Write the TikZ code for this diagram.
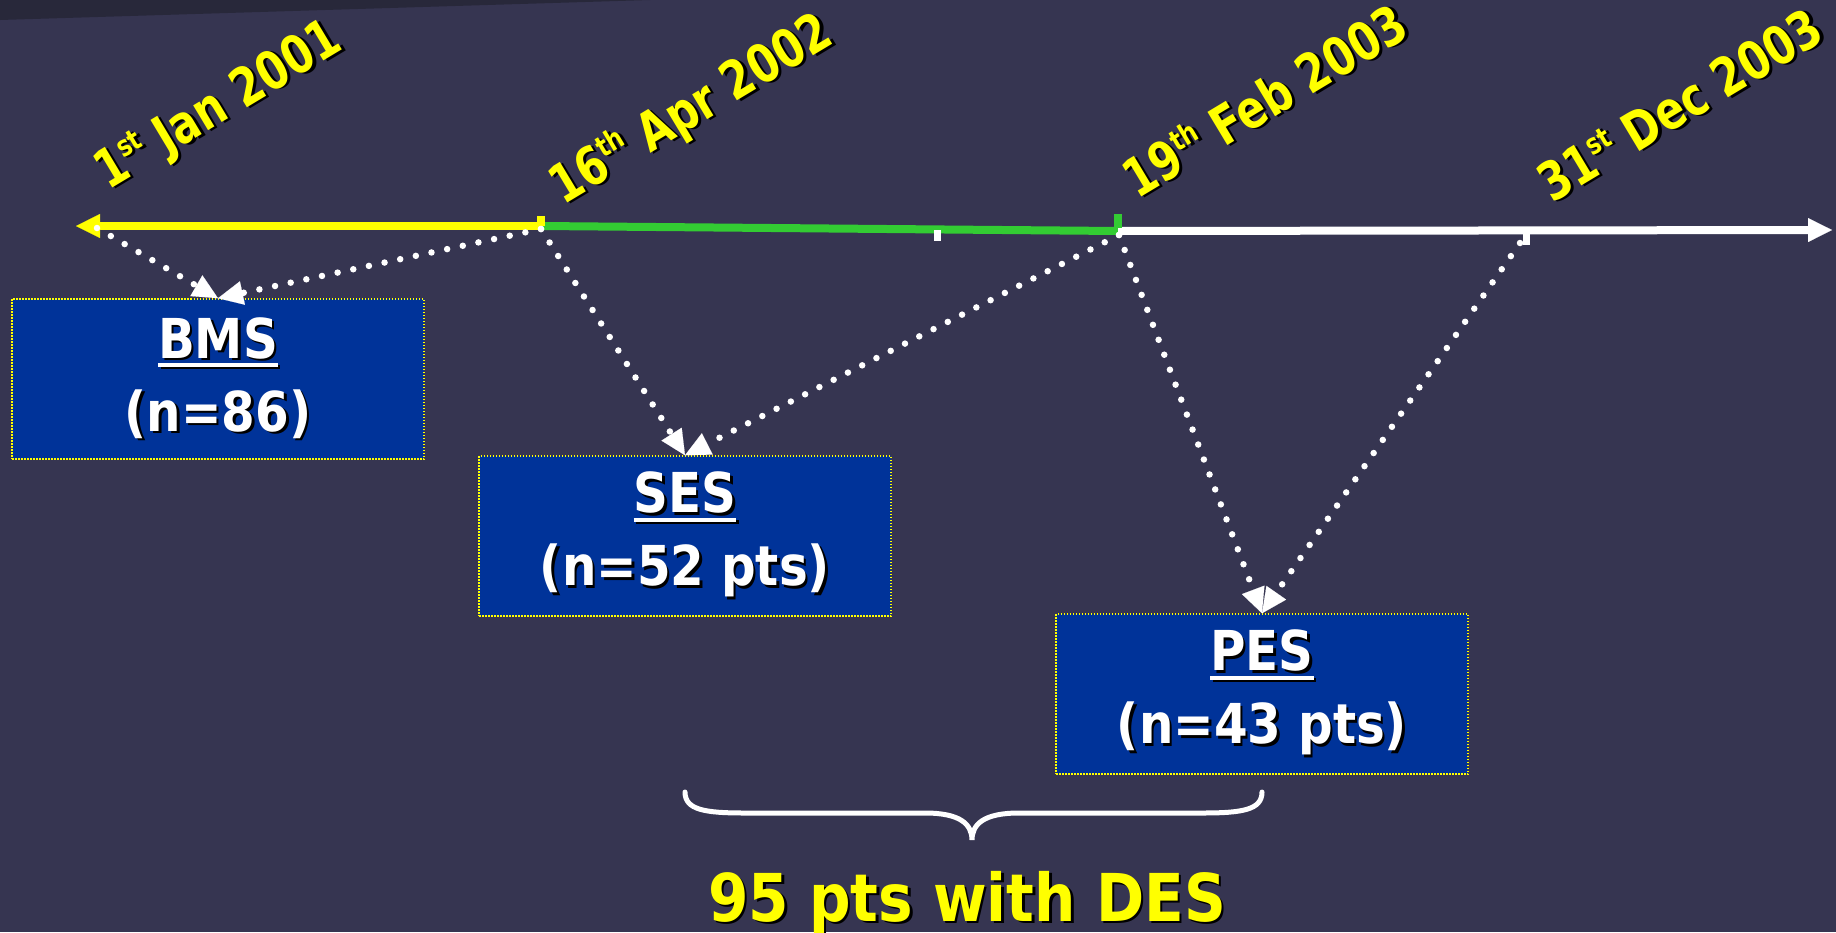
\documentclass[tikz,border=0pt]{standalone}
\usepackage{fontspec}
\setmainfont{DejaVu Sans}[FakeStretch=0.88]
\newfontfamily\datefam{DejaVu Sans}[FakeStretch=0.8]
\usetikzlibrary{arrows.meta}
\definecolor{bg}{RGB}{54,53,81}
\definecolor{bgdark}{RGB}{40,40,58}
\definecolor{boxblue}{RGB}{0,51,153}
\definecolor{tlgreen}{RGB}{51,204,51}
\definecolor{tlyellow}{RGB}{255,255,0}
\newcommand\shd[1]{\leavevmode\rlap{\kern2.5pt\raisebox{-2.5pt}{\color{black}#1}}#1}
\newcommand\myul[1]{\setbox0\hbox{#1}\vtop{\copy0\kern4pt\hrule height 4pt\relax}}
\newcommand\sups[1]{\raisebox{0.38em}{\fontsize{29}{29}\selectfont #1}}
\newcommand\boxfont{\bfseries\fontsize{55}{73}\selectfont}
\newcommand\datefont{\datefam\bfseries\fontsize{53}{60}\selectfont}
\tikzset{
  box/.style={draw=tlyellow, line width=1.5pt, dash pattern=on 1.5pt off 1.5pt,
    fill=boxblue, minimum width=412pt, minimum height=160pt, inner sep=0pt,
    align=center, text=white, font=\boxfont},
  dots/.style={draw=white, line width=6.5pt, line cap=round,
    dash pattern=on 0pt off 16pt,
    -{Triangle[length=25pt,width=24pt,line width=0.1pt]}},
  datelab/.style={rotate=31, anchor=base west, text=tlyellow, font=\datefont, inner sep=0pt},
  dateshadow/.style={datelab, text=black, xshift=2.5pt, yshift=-2.5pt},
  tl/.style={line width=8pt},
}
\begin{document}
\begin{tikzpicture}[x=1pt,y=-1pt]
\useasboundingbox (0,0) rectangle (1836,932);
\fill[bg] (0,0) rectangle (1836,932);
\fill[bgdark] (0,0) -- (650,0) -- (0,20) -- cycle;

% timeline
\coordinate (t0) at (76,226);
\coordinate (t1) at (541,226);
\coordinate (t2) at (1118,231);
\coordinate (t3) at (1832,230);
\draw[tl, tlyellow, {Triangle[length=24pt,width=24pt,line width=0.1pt]}-] (t0) -- (t1);
\draw[tl, tlgreen] (t1) -- (t2);
\draw[tl, white, -{Triangle[length=24pt,width=24pt,line width=0.1pt]}] (t2) -- (t3);
\fill[tlyellow] (537,216) rectangle (545,226);
\fill[tlgreen] (1114,214) rectangle (1122,228);
\fill[white] (934,230) rectangle (941,241);
\fill[white] (1523,233) rectangle (1530,245);

% dates
\node[dateshadow] (d1s) at (108,191) {1\sups{st} Jan 2001};
\node[datelab] (d1) at (108,191) {1\sups{st} Jan 2001};
\node[dateshadow] (d2s) at (563,206) {16\sups{th} Apr 2002};
\node[datelab] (d2) at (563,206) {16\sups{th} Apr 2002};
\node[dateshadow] (d3s) at (1137,200) {19\sups{th} Feb 2003};
\node[datelab] (d3) at (1137,200) {19\sups{th} Feb 2003};
\node[dateshadow] (d4s) at (1552,204) {31\sups{st} Dec 2003};
\node[datelab] (d4) at (1552,204) {31\sups{st} Dec 2003};

% boxes
\node[box] (bms) at (218,379) {\shd{\myul{BMS}}\\\shd{(n=86)}};
\node[box] (ses) at (685,536) {\shd{\myul{SES}}\\\shd{(n=52 pts)}};
\node[box] (pes) at (1262,694) {\shd{\myul{PES}}\\\shd{(n=43 pts)}};

% connector starts
\coordinate (a1) at (97,228);
\coordinate (a2) at (541,229);
\coordinate (a3) at (1119,235);
\coordinate (a4) at (1520,243);

\draw[dots] (a1) -- (bms.north);
\draw[dots] (a2) -- (bms.north);
\draw[dots] (a2) -- (ses.north);
\draw[dots] (a3) -- (ses.north);
\draw[dots] (a3) -- (pes.north);
\draw[dots] (a4) -- (pes.north);

% brace
\draw[white, line width=5pt, line cap=round]
  (685,792) .. controls (685,810) and (705,813) .. (745,813) -- (925,813)
  .. controls (960,813) and (972,824) .. (972,840)
  .. controls (972,824) and (984,813) .. (1019,813) -- (1202,813)
  .. controls (1242,813) and (1262,810) .. (1262,792);

\node[anchor=base, text=black, font=\bfseries\fontsize{66}{70}\selectfont, inner sep=0pt, xshift=2.5pt, yshift=-2.5pt] (totals) at (967,921) {95 pts with DES};
\node[anchor=base, text=tlyellow, font=\bfseries\fontsize{66}{70}\selectfont, inner sep=0pt] (total) at (967,921) {95 pts with DES};
\end{tikzpicture}
\end{document}
